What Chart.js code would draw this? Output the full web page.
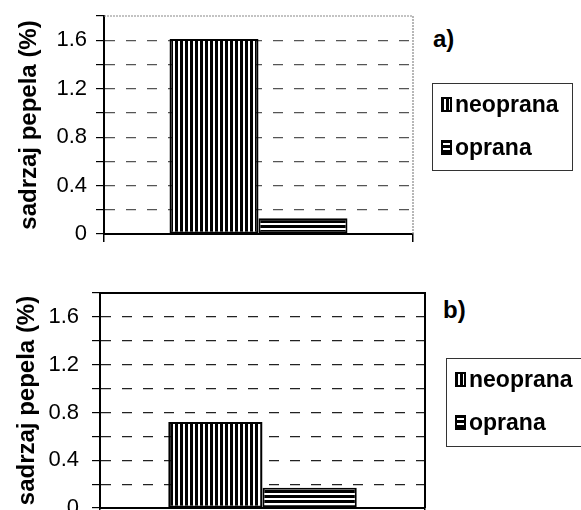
<!DOCTYPE html>
<html>
<head>
<meta charset="utf-8">
<script src="https://cdn.jsdelivr.net/npm/chart.js@4"></script>
<style>
  body { margin:0; background:#fff; width:581px; height:510px; overflow:hidden; position:relative;
         font-family:"Liberation Sans", Arial, sans-serif; }
  .wrap { position:absolute; }
  .tag { position:absolute; font-weight:bold; font-size:24px; line-height:24px; color:#000; }
  .legend { position:absolute; border:1px solid #333; background:#fff; }
  .item { position:absolute; left:8px; font-size:23px; font-weight:bold; line-height:24px; color:#000;
          white-space:nowrap; display:flex; align-items:center; }
  .item canvas { margin-right:3px; }
</style>
</head>
<body>
<div class="wrap" style="left:0;top:0"><canvas id="chartA" width="430" height="250"></canvas></div>
<div class="tag" style="left:433px;top:27px">a)</div>
<div class="legend" id="legA" style="left:432px;top:83px;width:139px;height:86px"></div>

<div class="wrap" style="left:0;top:260px"><canvas id="chartB" width="440" height="250"></canvas></div>
<div class="tag" style="left:443px;top:298px">b)</div>
<div class="legend" id="legB" style="left:446px;top:358px;width:140px;height:87px"></div>

<script>
const categories = [""];
const seriesNames = ["neoprana", "oprana"];
const valuesA = [1.61, 0.13];
const valuesB = [0.72, 0.17];
const tickLabels = ["0", "0.4", "0.8", "1.2", "1.6"];
const yTitle = "sadrzaj pepela (%)";

function stripes(vertical) {
  const c = document.createElement("canvas");
  c.width = 5; c.height = 5;
  const g = c.getContext("2d");
  g.fillStyle = "#fff";
  g.fillRect(0, 0, 5, 5);
  g.fillStyle = "#000";
  if (vertical) g.fillRect(0, 0, 3, 5);
  else g.fillRect(0, 0, 5, 3);
  return c;
}

function fillFor(i, ctx) {
  return ctx.createPattern(stripes(i === 0), "repeat");
}

// top/right frame of the plot area
const framePlugin = {
  id: "frame",
  afterDatasetsDraw(chart, args, opts) {
    const { ctx, chartArea: a } = chart;
    ctx.save();
    ctx.strokeStyle = opts.color;
    ctx.lineWidth = opts.width;
    ctx.setLineDash(opts.dash || []);
    ctx.beginPath();
    ctx.moveTo(a.left, a.top);
    ctx.lineTo(a.right, a.top);
    ctx.lineTo(a.right, a.bottom);
    ctx.stroke();
    ctx.restore();
  }
};

function noPad(s) {
  s.paddingTop = 0; s.paddingBottom = 0; s.paddingLeft = 0; s.paddingRight = 0;
}

function makeChart(id, values, cfg) {
  const el = document.getElementById(id);
  const ctx = el.getContext("2d");
  return new Chart(el, {
    type: "bar",
    data: {
      labels: categories,
      datasets: seriesNames.map((name, i) => ({
        label: name,
        data: [values[i]],
        backgroundColor: fillFor(i, ctx),
        borderColor: "#000",
        borderWidth: 2,
        borderSkipped: false,
        categoryPercentage: cfg.catPct,
        barPercentage: 1
      }))
    },
    options: {
      responsive: false,
      animation: false,
      layout: { padding: cfg.padding, autoPadding: false },
      plugins: {
        legend: { display: false },
        tooltip: { enabled: false },
        frame: cfg.frame
      },
      scales: {
        x: {
          offset: true,
          afterFit(s) { s.height = 0; noPad(s); },
          ticks: { display: false },
          grid: { display: true, drawOnChartArea: false, drawTicks: true, tickLength: 8, color: "#000", lineWidth: 1.5, offset: true },
          border: { display: true, color: "#000", width: 2 }
        },
        y: {
          min: 0, max: 1.8,
          afterFit(s) { s.width = cfg.axisLeft; noPad(s); },
          ticks: {
            stepSize: 0.2,
            autoSkip: false,
            padding: cfg.tickPad,
            color: "#000",
            font: { family: "'Liberation Sans', Arial, sans-serif", size: 22 },
            callback(v) {
              const t = String(Math.round(v * 10) / 10);
              return tickLabels.includes(t) ? t : "";
            }
          },
          grid: {
            color: (c) => (c.tick && c.tick.value > 1.75 ? "rgba(0,0,0,0)" : cfg.gridColor),
            lineWidth: 1.2,
            tickLength: 8,
            tickColor: "#000",
            tickBorderDash: []
          },
          border: { display: true, color: "#000", width: 2, dash: [10, 11] },
          title: {
            display: true,
            text: yTitle,
            color: "#000",
            font: { family: "'Liberation Sans', Arial, sans-serif", size: 24, weight: "bold" },
            padding: { top: cfg.titlePad, bottom: 0 }
          }
        }
      }
    },
    plugins: [framePlugin]
  });
}

makeChart("chartA", valuesA, {
  catPct: 0.576,
  padding: { top: 16, right: 17, bottom: 16, left: 0 },
  axisLeft: 104,
  tickPad: 9,
  titlePad: 15,
  gridColor: "#555",
  frame: { color: "#888", width: 1.2, dash: [2, 1] }
});

makeChart("chartB", valuesB, {
  catPct: 0.58,
  padding: { top: 33, right: 15, bottom: 2, left: 0 },
  axisLeft: 100,
  tickPad: 13,
  titlePad: 13,
  gridColor: "#222",
  frame: { color: "#000", width: 2 }
});

function buildLegend(id, rows) {
  const box = document.getElementById(id);
  seriesNames.forEach((name, i) => {
    const item = document.createElement("div");
    item.className = "item";
    item.style.top = rows[i] + "px";
    const sw = document.createElement("canvas");
    sw.width = 11; sw.height = 15;
    const g = sw.getContext("2d");
    g.fillStyle = g.createPattern(stripes(i === 0), "repeat");
    g.fillRect(0, 0, 11, 15);
    g.strokeStyle = "#000"; g.lineWidth = 2;
    g.strokeRect(1, 1, 9, 13);
    const span = document.createElement("span");
    span.textContent = name;
    item.appendChild(sw);
    item.appendChild(span);
    box.appendChild(item);
  });
}

buildLegend("legA", [8, 51]);
buildLegend("legB", [8, 51]);
</script>
</body>
</html>
